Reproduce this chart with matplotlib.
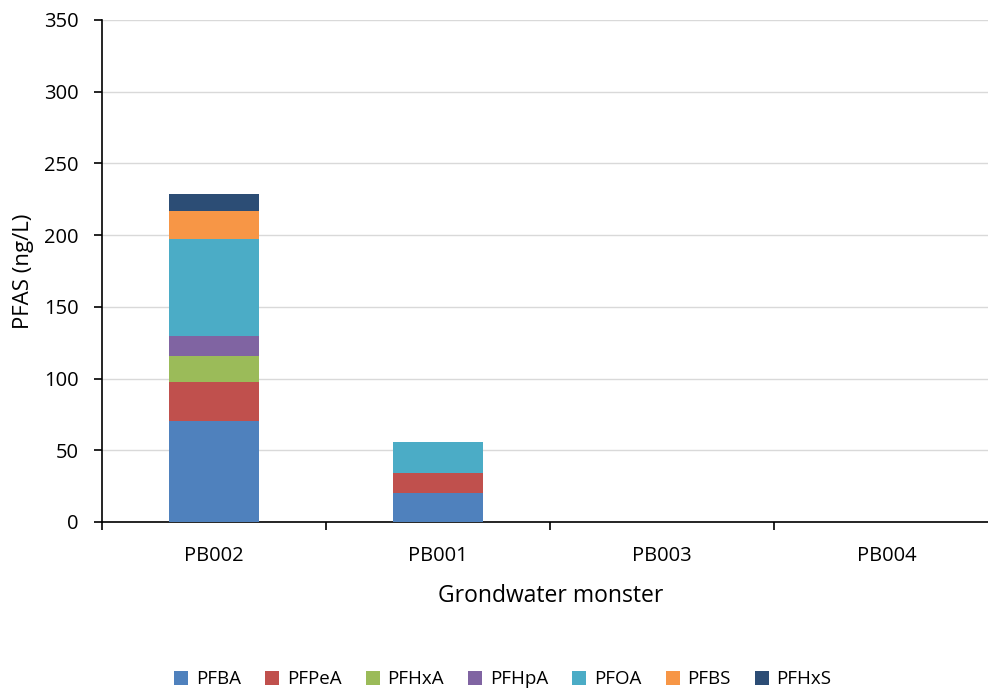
import matplotlib
matplotlib.use("Agg")
import matplotlib.pyplot as plt
import numpy as np
from matplotlib.ticker import FixedLocator, MultipleLocator

categories = ["PB002", "PB001", "PB003", "PB004"]
series_names = ["PFBA", "PFPeA", "PFHxA", "PFHpA", "PFOA", "PFBS", "PFHxS"]
PFBA = [70.5, 20.5, 0, 0]
PFPeA = [27, 14, 0, 0]
PFHxA = [18, 0, 0, 0]
PFHpA = [14, 0, 0, 0]
PFOA = [68, 21, 0, 0]
PFBS = [19, 0, 0, 0]
PFHxS = [12, 0, 0, 0]
values = [PFBA, PFPeA, PFHxA, PFHpA, PFOA, PFBS, PFHxS]
colors = ["#4F81BD", "#C0504D", "#9BBB59", "#8064A2", "#4BACC6", "#F79646", "#2C4D75"]

plt.rcParams['font.family'] = ['Open Sans', 'DejaVu Sans']

fig = plt.figure(figsize=(9.88, 6.89), dpi=100)
ax = fig.add_axes([0.1035, 0.2424, 0.907, 0.7286])

x = np.arange(len(categories))
bottom = np.zeros(len(categories))
for name, vals, c in zip(series_names, values, colors):
    v = np.array(vals, dtype=float)
    ax.bar(x, v, width=0.4, bottom=bottom, color=c, label=name, zorder=3)
    bottom += v

ax.set_xlim(-0.5, len(categories) - 0.5)
ax.set_ylim(0, 350)
ax.yaxis.set_major_locator(MultipleLocator(50))
ax.grid(axis='y', color='#D9D9D9', linewidth=1, zorder=0)
ax.set_axisbelow(True)

ax.set_xticks(x)
ax.set_xticklabels(categories, fontsize=14.5)
ax.xaxis.set_minor_locator(FixedLocator(np.arange(-0.5, len(categories), 1.0)))
ax.tick_params(axis='x', which='major', length=0, pad=17)
ax.tick_params(axis='x', which='minor', length=6, width=1.2, direction='out')
ax.tick_params(axis='y', labelsize=14.5, length=6, width=1.2, direction='out', pad=11)

for s in ['top', 'right']:
    ax.spines[s].set_visible(False)
ax.spines['left'].set_linewidth(1.2)
ax.spines['bottom'].set_linewidth(1.2)

ax.set_ylabel("PFAS (ng/L)", fontsize=16, labelpad=7)
ax.set_xlabel("Grondwater monster", fontsize=16.5, labelpad=13)

handles, labels = ax.get_legend_handles_labels()
fig.legend(handles, labels, loc='center', bbox_to_anchor=(0.509, 0.014), ncol=7,
           frameon=False, fontsize=13.5, handlelength=0.75, handleheight=0.75,
           handletextpad=0.4, columnspacing=1.3)

fig.savefig("out.png", dpi=100)
